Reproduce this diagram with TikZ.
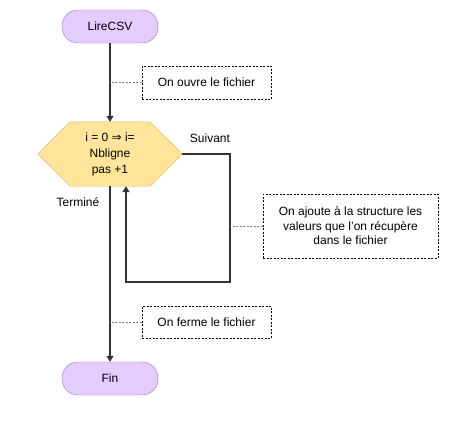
\documentclass[tikz,border=0pt]{standalone}
\usepackage{fontspec}
\setmainfont{Liberation Sans}
\newfontfamily\arrowfont{DejaVu Sans}
\usetikzlibrary{arrows.meta,calc,backgrounds}
\definecolor{termfill}{HTML}{E5CCFF}
\definecolor{termdraw}{HTML}{9673A6}
\definecolor{loopfill}{HTML}{FFE599}
\definecolor{loopdraw}{HTML}{D6B656}
\definecolor{flow}{HTML}{333333}
\tikzset{
    term/.style={draw=termdraw, fill=termfill, rounded corners=16pt, minimum width=96pt, minimum height=33pt},
    flowline/.style={draw=flow, line width=2pt, -{Triangle[width=7pt,length=6pt]}},
    notebox/.style={draw=black, dash pattern=on 2pt off 1.5pt, thin, align=center, inner sep=0pt},
    noteline/.style={draw=gray, dash pattern=on 2pt off 1.5pt, thin},
    txt/.style={font=\fontsize{12}{14.5}\selectfont}
}
\begin{document}
\begin{tikzpicture}[x=1pt, y=-1pt, every node/.style={txt}]
        \useasboundingbox (0,0) rectangle (467,423);

        \node[term] (start) at (110,26.5) {LireCSV};
        \node[minimum width=144pt, minimum height=64pt, inner sep=0pt, align=center,
            font=\fontsize{12}{16}\selectfont] (loop) at (110,154)
            {i = 0 {\arrowfont ⇒} i=\\Nbligne\\pas +1};
        \node[term] (fin) at (110,378.5) {Fin};

        % hexagon behind the loop text
        \begin{scope}[on background layer]
            \draw[draw=loopdraw, fill=loopfill] (loop.west) -- ($(loop.north west)+(32,0)$)
                -- ($(loop.north east)+(-32,0)$) -- (loop.east) -- ($(loop.south east)+(-32,0)$)
                -- ($(loop.south west)+(32,0)$) -- cycle;
        \end{scope}

        \node[notebox, minimum width=129pt, minimum height=33pt] (open) at (206.5,82.5) {On ouvre le fichier};
        \node[notebox, minimum width=175pt, minimum height=64pt] (add) at (350.5,226)
            {On ajoute à la structure les\\valeurs que l'on récupère\\dans le fichier};
        \node[notebox, minimum width=129pt, minimum height=32pt] (close) at (206.5,322) {On ferme le fichier};

        \node (next) at (210,138) {Suivant};
        \node (done) at (78,202) {Terminé};

        \coordinate (backr) at (230,282);
        \coordinate (backl) at (126,282);

        \draw[flowline] (start.south) -- (loop.north);
        \draw[flowline] (loop.south) -- (fin.north);
        \draw[flowline] (loop.east) -| (backr) -- (backl) -- ([xshift=16pt]loop.south);

        \draw[noteline] (open.west) -- (open.west -| start);
        \draw[noteline] (add.west) -- (add.west -| backr);
        \draw[noteline] (close.west) -- (close.west -| start);
\end{tikzpicture}
\end{document}
